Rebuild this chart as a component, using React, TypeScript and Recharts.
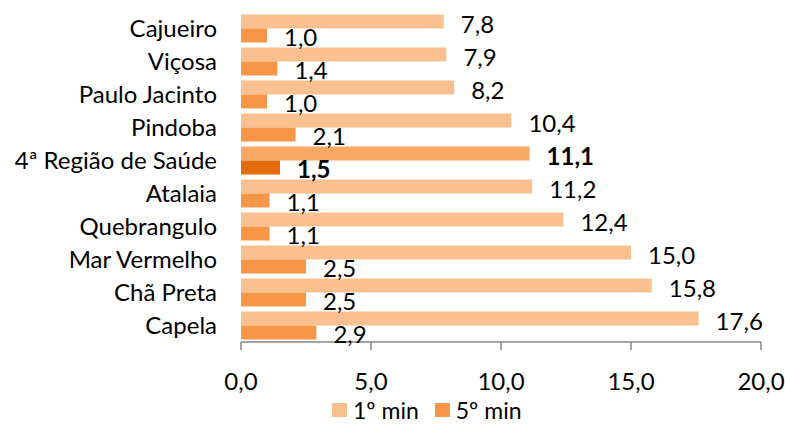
import React from 'react';
import { BarChart, Bar, XAxis, YAxis, Cell, LabelList } from 'recharts';

const categories = ['Cajueiro', 'Viçosa', 'Paulo Jacinto', 'Pindoba', '4ª Região de Saúde', 'Atalaia', 'Quebrangulo', 'Mar Vermelho', 'Chã Preta', 'Capela'];
const min1 = [7.8, 7.9, 8.2, 10.4, 11.1, 11.2, 12.4, 15.0, 15.8, 17.6];
const min5 = [1.0, 1.4, 1.0, 2.1, 1.5, 1.1, 1.1, 2.5, 2.5, 2.9];
const xTicks = [0, 5, 10, 15, 20];
const boundaryTicks = [0, 1, 2, 3, 4, 5, 6, 7, 8, 9, 10];
const seriesNames = ['1º min', '5º min'];
const highlight = '4ª Região de Saúde';

const data = categories.map((c, i) => ({ name: c, m1: min1[i], m5: min5[i] }));

const FONT = 'Lato, "Open Sans", sans-serif';
const FS = 24;
const LEGEND_FS = 23;
const C1 = '#FAC090';
const C5 = '#F79646';
const C1H = '#F8A865';
const C5H = '#E46C0A';
const AXIS = '#868686';

const fmt = (v: number) => v.toFixed(1).replace('.', ',');

const makeLabel = (dyExtra: number) => (props: any) => {
  const { x, y, width, height, value, index } = props;
  const bold = categories[index] === highlight;
  return (
    <text
      x={Number(x) + Number(width) + 17}
      y={Number(y) + Number(height) / 2 + dyExtra + FS * 0.358}
      fontFamily={FONT}
      fontSize={FS}
      fontWeight={bold ? 700 : 400}
      fill="#000"
    >
      {fmt(Number(value))}
    </text>
  );
};

const CatTick = (props: any) => {
  const { x, y, payload } = props;
  return (
    <text x={x} y={y + FS * 0.358} textAnchor="end" fontFamily={FONT} fontSize={FS} fill="#000">
      {payload.value}
    </text>
  );
};

const LegendSwatch = ({ color }: { color: string }) => (
  <span style={{ width: 15, height: 14, background: color, display: 'block', marginRight: 6, flex: 'none' }} />
);

const LegendText = ({ text, gap }: { text: string; gap: number }) => (
  <span style={{ display: 'block', height: 20, lineHeight: '20px', overflow: 'visible', marginRight: gap }}>{text}</span>
);

export default function App() {
  return (
    <div style={{ position: 'relative', width: 785, height: 424, overflow: 'hidden', fontFamily: FONT, background: '#fff' }}>
      <style>{'html,body{margin:0;padding:0;overflow:hidden;}'}</style>
      <BarChart
        width={785}
        height={424}
        data={data}
        layout="vertical"
        margin={{ top: 12, right: 24, bottom: 52, left: 0 }}
        barCategoryGap="7.5%"
        barGap={0}
      >
        <XAxis
          type="number"
          domain={[0, 20]}
          ticks={xTicks}
          tickFormatter={fmt}
          height={30}
          tickSize={8}
          tickMargin={23}
          stroke={AXIS}
          tick={{ fill: '#000', fontSize: FS, fontFamily: FONT }}
          axisLine={{ stroke: AXIS, strokeWidth: 1.5 }}
          tickLine={{ stroke: AXIS, strokeWidth: 1.5 }}
        />
        <YAxis
          yAxisId="grid"
          type="number"
          domain={[0, 10]}
          ticks={boundaryTicks}
          orientation="left"
          width={0}
          tickSize={8}
          tick={() => <g />}
          axisLine={{ stroke: AXIS, strokeWidth: 1.5 }}
          tickLine={{ stroke: AXIS, strokeWidth: 1.5 }}
        />
        <YAxis
          yAxisId="cat"
          type="category"
          dataKey="name"
          orientation="left"
          width={241}
          axisLine={false}
          tickLine={false}
          tickSize={0}
          tickMargin={24}
          tick={<CatTick />}
          interval={0}
        />
        <Bar dataKey="m1" name={seriesNames[0]} yAxisId="cat" isAnimationActive={false}>
          {data.map((d) => (
            <Cell key={d.name} fill={d.name === highlight ? C1H : C1} />
          ))}
          <LabelList dataKey="m1" content={makeLabel(2.5)} />
        </Bar>
        <Bar dataKey="m5" name={seriesNames[1]} yAxisId="cat" isAnimationActive={false}>
          {data.map((d) => (
            <Cell key={d.name} fill={d.name === highlight ? C5H : C5} />
          ))}
          <LabelList dataKey="m5" content={makeLabel(2)} />
        </Bar>
      </BarChart>
      <div
        style={{
          position: 'absolute',
          left: 332,
          top: 400,
          height: 20,
          display: 'flex',
          alignItems: 'center',
          fontSize: LEGEND_FS,
          fontFamily: FONT,
          color: '#000',
          whiteSpace: 'nowrap',
        }}
      >
        <LegendSwatch color={C1} />
        <LegendText text={seriesNames[0]} gap={16} />
        <LegendSwatch color={C5} />
        <LegendText text={seriesNames[1]} gap={0} />
      </div>
    </div>
  );
}
